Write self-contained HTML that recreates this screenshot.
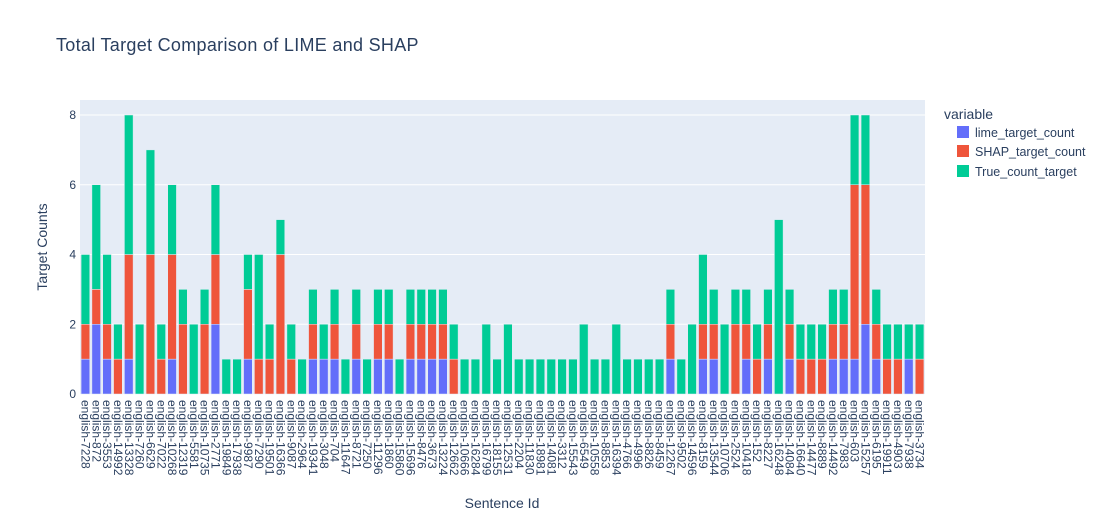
<!DOCTYPE html>
<html><head><meta charset="utf-8"><style>
body{margin:0;background:#fff;}
svg text{font-family:"Liberation Sans",Arial,sans-serif;}
</style></head><body>
<svg id="chart" width="1116" height="525" xmlns="http://www.w3.org/2000/svg">
<rect width="1116" height="525" fill="#fff"/>
<rect x="80" y="100" width="845" height="294" fill="#E5ECF6"/>
<g id="grid"></g><g id="bars"></g><g id="xt"></g><g id="yt"></g>
<text x="56" y="51" font-size="18" letter-spacing="0.3" fill="#2a3f5f">Total Target Comparison of LIME and SHAP</text>
<text transform="translate(47,247) rotate(-90)" text-anchor="middle" font-size="14" fill="#2a3f5f">Target Counts</text>
<text x="502" y="508" text-anchor="middle" font-size="14" fill="#2a3f5f">Sentence Id</text>
<g>
<text x="944" y="119" font-size="14" fill="#2a3f5f">variable</text>
<g><rect x="957" y="126" width="12" height="12" fill="#636efa"/><text x="975" y="137" font-size="12.5" fill="#2a3f5f">lime_target_count</text></g>
<g><rect x="957" y="145" width="12" height="12" fill="#EF553B"/><text x="975" y="156" font-size="12.5" fill="#2a3f5f">SHAP_target_count</text></g>
<g><rect x="957" y="165" width="12" height="12" fill="#00cc96"/><text x="975" y="176" font-size="12.5" fill="#2a3f5f">True_count_target</text></g>
</g>
</svg>
<script>
const categories=["7228","872","3553","14992","13328","7260","6629","7022","10268","12319","5581","10735","2771","19849","17938","9987","7290","19501","16366","9087","2964","19341","3048","704","11647","8721","7250","11296","1860","15860","15696","8476","3673","13224","12662","10666","16284","16799","18155","12531","2204","11830","18981","14081","3312","15543","6549","10558","8853","16394","4766","4996","8826","8459","12267","9502","14596","8159","13544","10706","2524","10418","152","8227","16248","14084","16640","14477","8889","14492","7983","603","15257","6195","19911","4903","7938","3734"];
const limeVals=[1,2,1,0,1,0,0,0,1,0,0,0,2,0,0,1,0,0,0,0,0,1,1,1,0,1,0,1,1,0,1,1,1,1,0,0,0,0,0,0,0,0,0,0,0,0,0,0,0,0,0,0,0,0,1,0,0,1,1,0,0,1,0,1,0,1,0,0,0,1,1,1,2,1,0,0,1,0];
const shapVals=[1,1,1,1,3,0,4,1,3,2,0,2,2,0,0,2,1,1,4,1,0,1,0,1,0,1,0,1,1,0,1,1,1,1,1,0,0,0,0,0,0,0,0,0,0,0,0,0,0,0,0,0,0,0,1,0,0,1,1,0,2,1,1,1,0,1,1,1,1,1,1,5,4,1,1,1,0,1];
const trueVals=[2,3,2,1,4,2,3,1,2,1,2,1,2,1,1,1,3,1,1,1,1,1,1,1,1,1,1,1,1,1,1,1,1,1,1,1,1,2,1,2,1,1,1,1,1,1,2,1,1,2,1,1,1,1,1,1,2,2,1,2,1,1,1,1,5,1,1,1,1,1,1,2,2,1,1,1,1,1];
const yTicks=[0,2,4,6,8];
const NS="http://www.w3.org/2000/svg";
const X0=80,X1=925,Y0=394,YTOP=115,YMAX=8;
const bw=(X1-X0)/categories.length;
const xs=i=>X0+bw*i;
const ys=v=>Y0-(Y0-YTOP)*v/YMAX;
function mk(tag,attrs,parent){const e=document.createElementNS(NS,tag);for(const k in attrs)e.setAttribute(k,attrs[k]);document.getElementById(parent).appendChild(e);return e;}
yTicks.forEach(t=>{
  if(t>0){const l=mk('line',{x1:X0,x2:X1,y1:ys(t),y2:ys(t),stroke:'#fff','stroke-width':1},'grid');
  
  }
  const tx=mk('text',{x:X0-4,y:ys(t)+4,'text-anchor':'end','font-size':12,fill:'#2a3f5f'},'yt');
  tx.textContent=t;
  
  
});
const series=[[limeVals,'#636efa','lime'],[shapVals,'#EF553B','shap'],[trueVals,'#00cc96','true']];
categories.forEach((c,i)=>{
  let base=0;
  series.forEach(([vals,col,nm])=>{
    const v=vals[i];
    if(v>0){
      const r=mk('rect',{x:xs(i)+bw*0.1,width:bw*0.8,y:ys(base+v),height:ys(base)-ys(base+v),fill:col,stroke:'#E5ECF6','stroke-width':0.5},'bars');
      
      
    }
    base+=v;
  });
  const cx=xs(i)+bw/2;
  const t=mk('text',{transform:'translate('+(cx-4)+',400) rotate(90)','font-size':12,fill:'#2a3f5f'},'xt');
  t.textContent='english-'+c;
  
  
});
</script>
</body></html>
